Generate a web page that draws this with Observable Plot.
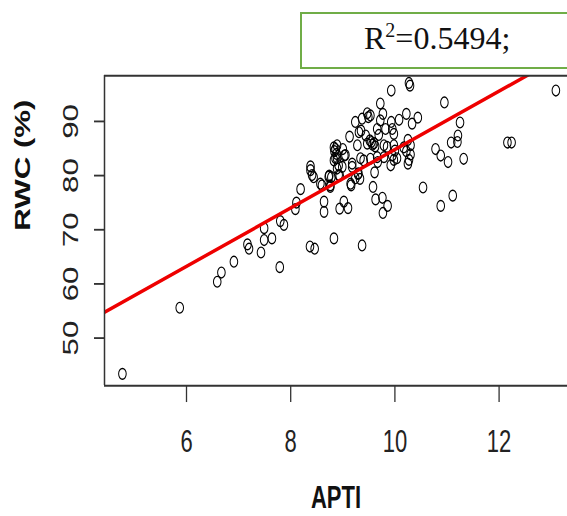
<!DOCTYPE html>
<html>
<head>
<meta charset="utf-8">
<script src="https://cdn.jsdelivr.net/npm/d3@7"></script>
<script src="https://cdn.jsdelivr.net/npm/@observablehq/plot@0.6"></script>
<style>
  html, body { margin: 0; padding: 0; background: #fff; overflow: hidden; }
  #wrap { position: relative; width: 567px; height: 516px; overflow: hidden; }
  #r2box {
    position: absolute; left: 300px; top: 12px; width: 290px; height: 53px;
    border: 2px solid #70ad47; background: #fff; box-sizing: content-box;
  }
  #r2text {
    position: absolute; left: 62px; top: 8px;
    font-family: "Liberation Serif", "Times New Roman", serif; font-size: 32px; color: #111;
    white-space: nowrap; line-height: 1;
  }
  #r2text sup { font-size: 20px; vertical-align: 0; position: relative; top: -12px; }
</style>
</head>
<body>
<div id="wrap">
  <div id="chart"></div>
  <div id="r2box"><div id="r2text">R<sup>2</sup>=0.5494;</div></div>
</div>
<script>
// APTI (x) and RWC % (y) values
const apti = [4.77,5.87,6.59,6.67,6.91,7.17,7.20,7.43,7.49,7.49,7.64,7.79,7.80,7.87,8.37,8.46,8.83,9.37,8.19,8.11,
  8.09,8.64,8.64,8.94,9.02,9.10,8.76,8.73,8.57,8.41,8.38,8.38,8.44,8.60,9.15,9.24,9.30,8.92,9.58,9.61,
  9.63,9.76,9.86,9.77,10.54,10.88,11.11,9.93,10.27,10.29,9.72,10.95,13.09,11.25,11.21,11.20,11.08,12.16,12.24,10.78,
  10.88,11.02,11.32,10.22,10.44,10.33,10.08,9.93,9.98,9.95,9.77,9.72,9.82,9.66,9.53,9.49,9.37,9.24,9.13,9.35,
  9.44,9.52,9.55,9.47,9.28,8.89,8.83,8.88,9.03,8.83,8.92,8.78,8.99,9.18,9.40,9.53,9.67,9.29,9.33,9.16,
  9.98,10.25,10.30,10.22,10.27,10.25,10.30,10.17,9.85,9.79,10.00,9.95,9.79,9.66,8.86,8.74,8.76,8.94,9.47,9.31,
  9.00,8.86,8.84,8.89,9.05,9.18,9.34,8.89,9.57,9.60,9.62,9.98,9.92,10.04,9.69];
const rwc = [43.4,55.6,60.4,62.1,64.1,67.3,66.5,65.8,68.1,70.3,68.4,63.1,71.6,70.9,66.9,66.5,68.4,67.1,77.5,75.0,
  73.8,75.2,73.3,73.9,75.2,74.0,78.2,79.8,78.5,80.1,81.0,81.7,79.7,78.2,78.5,79.5,80.4,80.1,77.9,80.6,
  75.6,75.9,74.4,73.1,77.8,74.4,76.3,95.7,97.1,96.6,93.3,93.5,95.7,89.8,87.4,86.2,86.1,86.1,86.1,84.9,
  83.7,82.5,83.1,91.4,90.7,89.6,90.3,89.9,87.7,88.6,91.4,90.2,88.6,88.6,91.1,90.8,90.5,89.9,87.2,88.3,
  87.4,86.5,86.2,85.9,85.6,85.6,85.2,84.0,83.7,82.8,81.9,79.7,81.6,81.6,82.8,83.1,82.5,80.3,79.4,78.2,
  82.9,86.6,85.6,84.5,82.9,82.2,83.9,85.2,85.3,85.6,84.6,83.7,83.4,83.4,83.2,80.0,77.9,80.0,91.5,88.0,
  84.9,84.9,84.5,83.2,83.8,82.2,83.2,81.3,85.7,86.0,85.4,85.6,81.9,83.2,87.5];
const xTicks = [6, 8, 10, 12];
const yTicks = [50, 60, 70, 80, 90];
const xLabel = "APTI";
const yLabel = "RWC (%)";
const fitIntercept = 30.9;
const fitSlope = 5.39;

const xDomain = [4.426, 13.313];
const yDomain = [41.21, 98.44];

const points = apti.map((x, i) => ({x, y: rwc[i]}));
const fit = xDomain.map(x => ({x, y: fitIntercept + fitSlope * x}));

const S = 1.42;            // vertical stretch of the reference image
const W = 567, H = 516 / S;
const font = '"Liberation Sans Narrow", "Arial Narrow", "Liberation Sans", Arial, sans-serif';

const chart = Plot.plot({
  width: W,
  height: H,
  marginLeft: 104,
  marginRight: 0,
  marginTop: 75 / S,
  marginBottom: H - 385 / S,
  style: {fontFamily: font, background: "#fff", color: "#222"},
  x: {domain: xDomain},
  y: {domain: yDomain},
  marks: [
    Plot.axisX({ticks: xTicks, tickSize: 12, tickPadding: 19, fontSize: 22, label: null, stroke: "#333", strokeWidth: 1.3}),
    Plot.axisY({ticks: yTicks, tickSize: 10, label: null, stroke: "#333", fill: "none", strokeWidth: 1.3}),
    Plot.text(yTicks, {y: d => d, text: d => String(d), frameAnchor: "left", dx: -34, rotate: -90,
      fontSize: 22, fill: "#222", textAnchor: "middle", lineAnchor: "middle"}),
    Plot.dot(points, {x: "x", y: "y", r: 3.8, stroke: "#000", strokeWidth: 1, fill: "none"}),
    Plot.line(fit, {x: "x", y: "y", stroke: "#ee0000", strokeWidth: 2.6, clip: true}),
    Plot.ruleX([xDomain[0]], {stroke: "#333", strokeWidth: 1.5}),
    Plot.ruleY([yDomain[0], yDomain[1]], {stroke: "#333", strokeWidth: 1.5}),
    Plot.text([xLabel], {frameAnchor: "bottom", dy: 497 / S - 385 / S, fontSize: 22, fontWeight: "bold", fill: "#111", lineAnchor: "middle"}),
    Plot.text([yLabel], {frameAnchor: "left", dx: 22 - 104, rotate: -90, fontSize: 22, fontWeight: "bold", fill: "#111", lineAnchor: "middle"})
  ]
});

chart.setAttribute("preserveAspectRatio", "none");
chart.setAttribute("height", 516);
chart.style.width = "567px";
chart.style.height = "516px";
chart.style.maxWidth = "none";
document.getElementById("chart").appendChild(chart);
</script>
</body>
</html>
